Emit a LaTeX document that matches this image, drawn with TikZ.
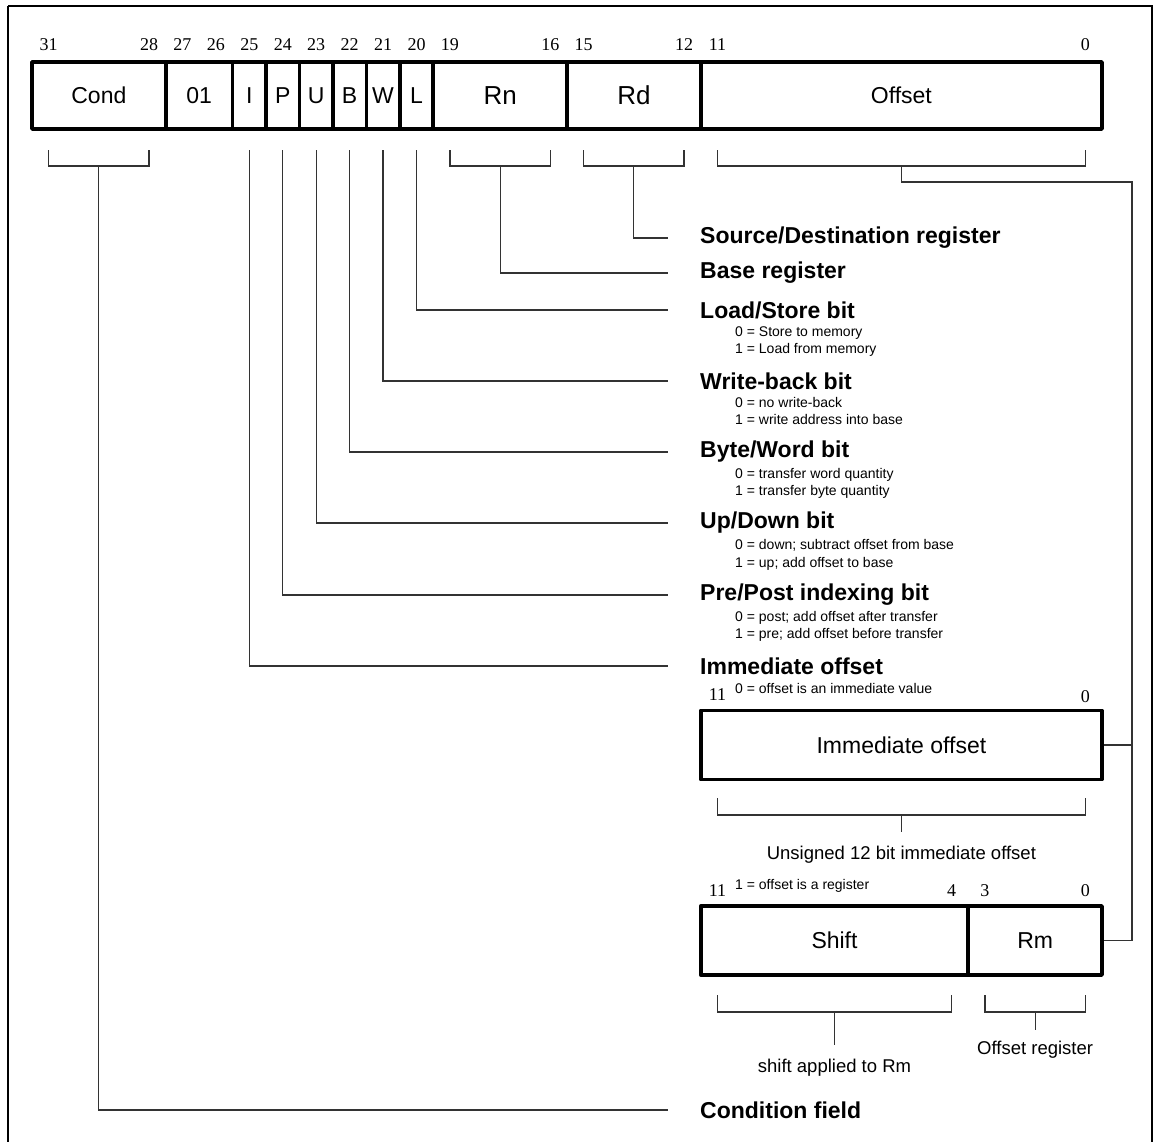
\documentclass[tikz,border=0pt]{standalone}
\usepackage{fontspec}
\setmainfont{Liberation Sans}
\newfontfamily\numfont{Liberation Serif}
\begin{document}
\begin{tikzpicture}[x=1pt,y=-1pt,
  field/.style={draw, line width=3.6pt, line join=round, inner sep=0pt, minimum height=67, font=\fontsize{23}{27}\selectfont},
  bigfield/.style={field, font=\fontsize{26}{30}\selectfont},
  subbox/.style={field, minimum height=69},
  bitnum/.style={inner sep=0pt, font=\numfont\fontsize{18}{20}\selectfont},
  conn/.style={line width=1.2pt, draw=black!80},
  ttl/.style={anchor=west, inner sep=0pt, font=\bfseries\fontsize{23}{27}\selectfont},
  sub/.style={anchor=base west, inner sep=0pt, font=\fontsize{14}{16}\selectfont},
  note/.style={inner sep=0pt, font=\fontsize{18.5}{22}\selectfont}]
\useasboundingbox (0,0) rectangle (1158,1141);
\draw[line width=2pt] (8,6) -- (8,1180) (8,6) -- (1152,6) -- (1152,1180);

% main instruction word
\node[field, minimum width=133.75] (cond) at (98.875,95.5) {Cond};
\node[field, minimum width=66.875] (f01) at (199.19,95.5) {01};
\node[field, minimum width=33.4375] (fI) at (249.34,95.5) {I};
\node[field, minimum width=33.4375] (fP) at (282.78,95.5) {P};
\node[field, minimum width=33.4375] (fU) at (316.22,95.5) {U};
\node[field, minimum width=33.4375] (fB) at (349.66,95.5) {B};
\node[field, minimum width=33.4375] (fW) at (383.09,95.5) {W};
\node[field, minimum width=33.4375] (fL) at (416.53,95.5) {L};
\node[bigfield, minimum width=133.75] (rn) at (500.125,95.5) {Rn};
\node[bigfield, minimum width=133.75] (rd) at (633.875,95.5) {Rd};
\node[field, minimum width=401.25] (off) at (901.375,95.5) {Offset};

\foreach \b in {31,28,27,26,25,24,23,22,21,20,19,16,15,12,11,0}
  \node[bitnum] (bn\b) at ({48.72+(31-\b)*33.4375},45) {\b};

% brackets under multi-bit fields
\draw[conn] (48.72,150) |- (149.03,166) -- (149.03,150);
\draw[conn] (449.97,150) |- (550.28,166) -- (550.28,150);
\draw[conn] (583.72,150) |- (684.03,166) -- (684.03,150);
\draw[conn] (717.47,150) |- (1085.28,166) -- (1085.28,150);
\coordinate (condS) at (98.875,166);
\coordinate (rnS) at (500.125,166);
\coordinate (rdS) at (633.875,166);
\coordinate (offS) at (901.375,166);
\coordinate (iS) at (249.34,150);
\coordinate (pS) at (282.78,150);
\coordinate (uS) at (316.22,150);
\coordinate (bS) at (349.66,150);
\coordinate (wS) at (383.09,150);
\coordinate (lS) at (416.53,150);

% titles
\node[ttl] (tsd) at (700,238) {Source/Destination register};
\node[ttl] (tbase) at (700,273) {Base register};
\node[ttl] (tls) at (700,310) {Load/Store bit};
\node[sub] (tls0) at (735,336) {0 = Store to memory};
\node[sub] (tls1) at (735,353) {1 = Load from memory};
\node[ttl] (twb) at (700,381) {Write-back bit};
\node[sub] (twb0) at (735,407) {0 = no write-back};
\node[sub] (twb1) at (735,424) {1 = write address into base};
\node[ttl] (tbw) at (700,452) {Byte/Word bit};
\node[sub] (tbw0) at (735,478) {0 = transfer word quantity};
\node[sub] (tbw1) at (735,495) {1 = transfer byte quantity};
\node[ttl] (tud) at (700,523) {Up/Down bit};
\node[sub] (tud0) at (735,549) {0 = down; subtract offset from base};
\node[sub] (tud1) at (735,567) {1 = up; add offset to base};
\node[ttl] (tpp) at (700,595) {Pre/Post indexing bit};
\node[sub] (tpp0) at (735,621) {0 = post; add offset after transfer};
\node[sub] (tpp1) at (735,638) {1 = pre; add offset before transfer};
\node[ttl] (tim) at (700,666) {Immediate offset};
\node[sub] (tim0) at (735,693) {0 = offset is an immediate value};
\node[ttl] (tcf) at (700,1110) {Condition field};

% connectors to titles
\draw[conn] (rdS) |- ([xshift=-32]tsd.west);
\draw[conn] (rnS) |- ([xshift=-32]tbase.west);
\draw[conn] (lS) |- ([xshift=-32]tls.west);
\draw[conn] (wS) |- ([xshift=-32]twb.west);
\draw[conn] (bS) |- ([xshift=-32]tbw.west);
\draw[conn] (uS) |- ([xshift=-32]tud.west);
\draw[conn] (pS) |- ([xshift=-32]tpp.west);
\draw[conn] (iS) |- ([xshift=-32]tim.west);
\draw[conn] (condS) |- ([xshift=-32]tcf.west);

% immediate offset variant
\node[bitnum] (i11) at (717.47,695) {11};
\node[bitnum] (i0) at (1085.28,697) {0};
\node[subbox, minimum width=401.25] (imm) at (901.375,745) {Immediate offset};
\draw[conn] (717.47,798) |- (1085.28,815) -- (1085.28,798);
\coordinate (immS) at (901.375,815);
\node[note] (unsig) at (901.375,855) {Unsigned 12 bit immediate offset};
\draw[conn] (immS) -- ([yshift=14]unsig.north);

% register variant
\node[sub] (treg1) at (735,889) {1 = offset is a register};
\node[bitnum] (r11) at (717.47,891) {11};
\node[bitnum] (r4) at (951.53,891) {4};
\node[bitnum] (r3) at (984.97,891) {3};
\node[bitnum] (r0) at (1085.28,891) {0};
\node[subbox, minimum width=267.5] (shift) at (834.5,940.5) {Shift};
\node[subbox, minimum width=133.75] (rm) at (1035.125,940.5) {Rm};
\draw[conn] (717.47,995) |- (951.53,1012) -- (951.53,995);
\draw[conn] (984.97,995) |- (1085.28,1012) -- (1085.28,995);
\coordinate (shS) at (834.5,1012);
\coordinate (rmS) at (1035.125,1012);
\node[note] (shl) at (834.5,1068) {shift applied to Rm};
\node[note] (rml) at (1035.125,1050) {Offset register};
\draw[conn] (shS) -- ([yshift=14]shl.north);
\draw[conn] (rmS) -- ([yshift=11]rml.north);

% offset field to its two variants
\coordinate (bus) at (1132,182);
\draw[conn] (offS) |- (bus) |- (rm.east);
\draw[conn] (imm.east) -- (imm.east -| bus);
\end{tikzpicture}
\end{document}
